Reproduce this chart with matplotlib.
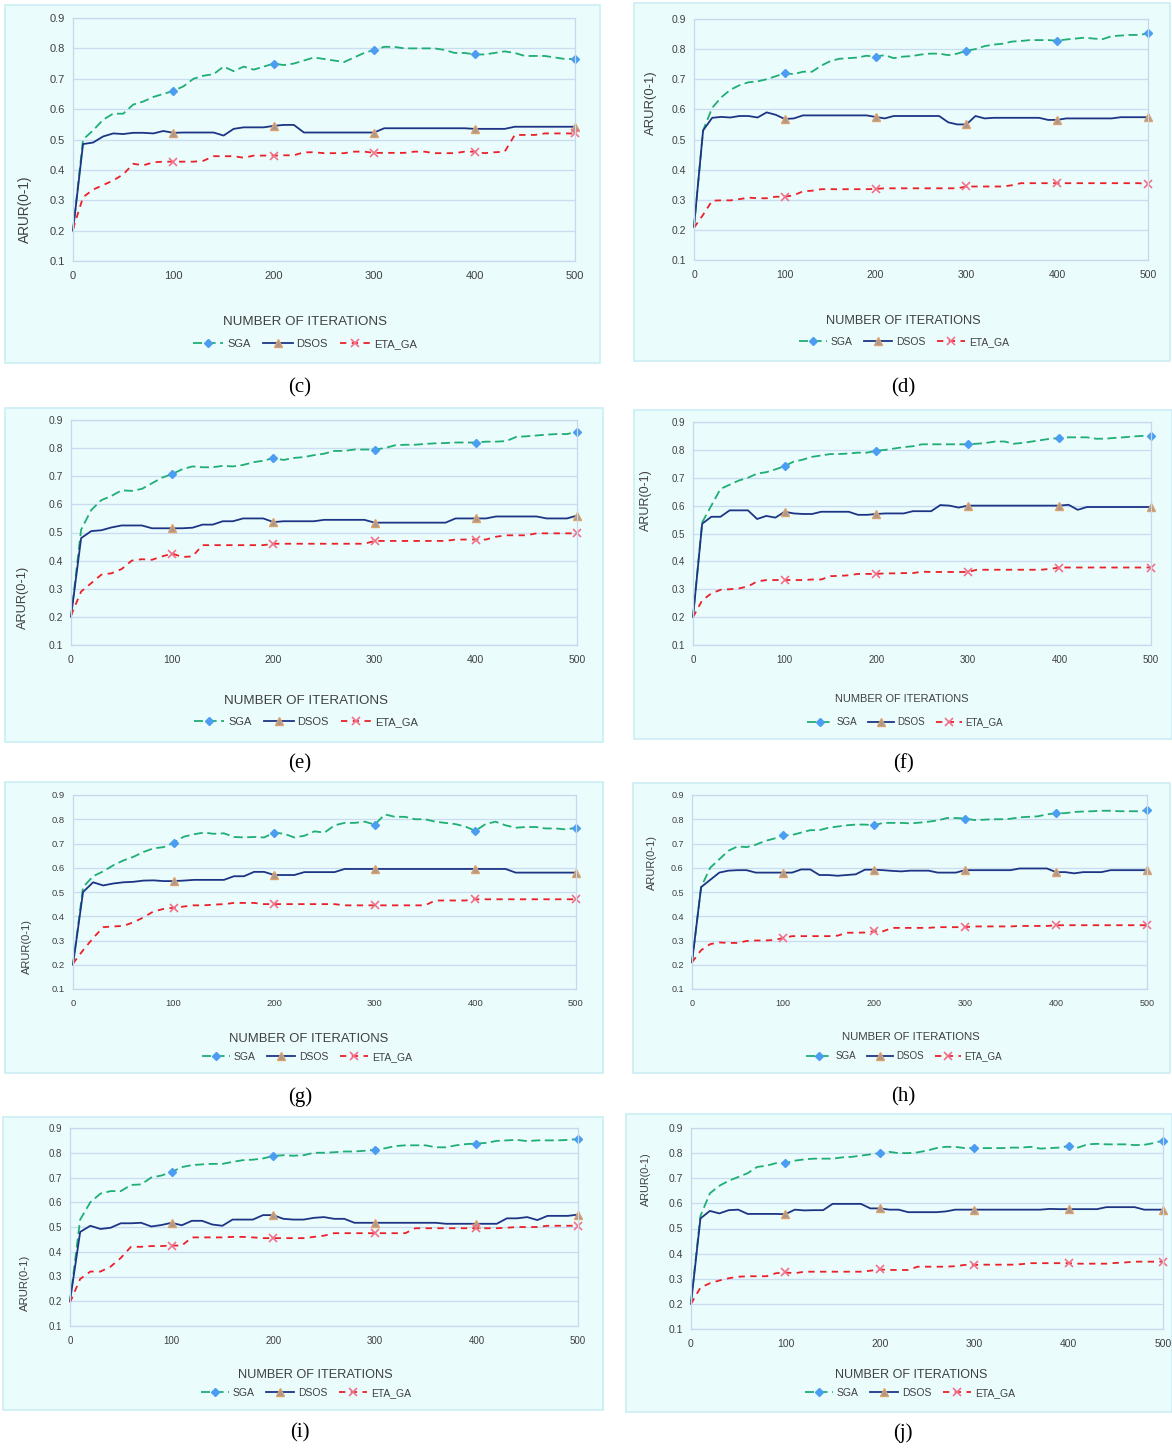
import matplotlib.pyplot as plt
from matplotlib.patches import Rectangle

plt.rcParams['font.family'] = ['Liberation Sans', 'DejaVu Sans']

# iteration axis (one sample every 10 iterations)
iters = list(range(0, 501, 10))
series_names = ['SGA', 'DSOS', 'ETA_GA']

# ---- (c) ----
c_sga = [0.20, 0.50, 0.53, 0.565, 0.585, 0.585, 0.615, 0.625, 0.64, 0.65, 0.66,
         0.675, 0.70, 0.71, 0.715, 0.74, 0.725, 0.74, 0.73, 0.74, 0.75,
         0.745, 0.75, 0.76, 0.77, 0.765, 0.76, 0.755, 0.77, 0.785, 0.795,
         0.805, 0.805, 0.80, 0.80, 0.80, 0.80, 0.795, 0.785, 0.785, 0.78,
         0.78, 0.785, 0.79, 0.785, 0.775, 0.775, 0.775, 0.77, 0.765, 0.765]
c_dsos = [0.20, 0.485, 0.49, 0.51, 0.52, 0.518, 0.522, 0.522, 0.52, 0.528, 0.522,
          0.523, 0.523, 0.523, 0.523, 0.513, 0.535, 0.54, 0.54, 0.54, 0.545,
          0.548, 0.548, 0.523, 0.523, 0.523, 0.523, 0.523, 0.523, 0.523, 0.523,
          0.537, 0.537, 0.537, 0.537, 0.537, 0.537, 0.537, 0.537, 0.537, 0.535,
          0.535, 0.535, 0.535, 0.542, 0.542, 0.542, 0.542, 0.542, 0.542, 0.542]
c_eta = [0.205, 0.31, 0.335, 0.35, 0.365, 0.385, 0.42, 0.415, 0.425, 0.427, 0.427,
         0.427, 0.427, 0.43, 0.445, 0.445, 0.445, 0.44, 0.447, 0.447, 0.447,
         0.448, 0.448, 0.458, 0.458, 0.455, 0.455, 0.455, 0.46, 0.46, 0.456,
         0.456, 0.456, 0.456, 0.46, 0.46, 0.455, 0.455, 0.455, 0.46, 0.46,
         0.455, 0.458, 0.46, 0.515, 0.515, 0.515, 0.52, 0.52, 0.52, 0.52]

# ---- (d) ----
d_sga = [0.21, 0.53, 0.605, 0.64, 0.665, 0.68, 0.69, 0.693, 0.70, 0.71, 0.72,
         0.717, 0.725, 0.725, 0.745, 0.76, 0.768, 0.77, 0.772, 0.778, 0.775,
         0.78, 0.77, 0.775, 0.777, 0.782, 0.785, 0.785, 0.78, 0.785, 0.795,
         0.80, 0.81, 0.815, 0.818, 0.825, 0.827, 0.83, 0.83, 0.83, 0.828,
         0.832, 0.835, 0.838, 0.835, 0.833, 0.843, 0.845, 0.847, 0.847, 0.852]
d_dsos = [0.21, 0.53, 0.572, 0.575, 0.573, 0.578, 0.578, 0.573, 0.59, 0.582, 0.568,
          0.57, 0.58, 0.58, 0.58, 0.58, 0.58, 0.58, 0.58, 0.58, 0.575,
          0.57, 0.578, 0.578, 0.578, 0.578, 0.578, 0.578, 0.557, 0.55, 0.55,
          0.578, 0.57, 0.572, 0.572, 0.572, 0.572, 0.572, 0.572, 0.565, 0.565,
          0.57, 0.57, 0.57, 0.57, 0.57, 0.57, 0.574, 0.574, 0.574, 0.574]
d_eta = [0.207, 0.25, 0.297, 0.298, 0.298, 0.302, 0.307, 0.305, 0.305, 0.31, 0.31,
         0.315, 0.328, 0.33, 0.335, 0.335, 0.335, 0.335, 0.335, 0.335, 0.336,
         0.338, 0.338, 0.338, 0.338, 0.338, 0.338, 0.338, 0.338, 0.338, 0.344,
         0.344, 0.344, 0.344, 0.344, 0.348, 0.355, 0.355, 0.355, 0.355, 0.355,
         0.355, 0.355, 0.355, 0.355, 0.355, 0.355, 0.355, 0.355, 0.355, 0.352]

# ---- (e) ----
e_sga = [0.20, 0.51, 0.58, 0.615, 0.63, 0.65, 0.648, 0.655, 0.675, 0.695, 0.708,
         0.725, 0.735, 0.732, 0.732, 0.737, 0.735, 0.74, 0.75, 0.755, 0.765,
         0.758, 0.765, 0.768, 0.775, 0.78, 0.79, 0.79, 0.795, 0.795, 0.795,
         0.80, 0.81, 0.812, 0.812, 0.815, 0.817, 0.818, 0.82, 0.82, 0.82,
         0.823, 0.823, 0.825, 0.84, 0.842, 0.845, 0.848, 0.85, 0.85, 0.858]
e_dsos = [0.20, 0.48, 0.505, 0.508, 0.518, 0.525, 0.525, 0.525, 0.515, 0.515, 0.515,
          0.515, 0.517, 0.528, 0.528, 0.54, 0.54, 0.55, 0.55, 0.55, 0.537,
          0.54, 0.54, 0.54, 0.54, 0.545, 0.545, 0.545, 0.545, 0.545, 0.535,
          0.535, 0.535, 0.535, 0.535, 0.535, 0.535, 0.535, 0.55, 0.55, 0.55,
          0.55, 0.557, 0.557, 0.557, 0.557, 0.557, 0.55, 0.55, 0.55, 0.56]
e_eta = [0.205, 0.29, 0.32, 0.35, 0.355, 0.37, 0.40, 0.405, 0.403, 0.415, 0.425,
         0.413, 0.415, 0.455, 0.455, 0.455, 0.455, 0.455, 0.455, 0.455, 0.46,
         0.46, 0.46, 0.46, 0.46, 0.46, 0.46, 0.46, 0.46, 0.46, 0.47,
         0.47, 0.47, 0.47, 0.47, 0.47, 0.47, 0.47, 0.475, 0.475, 0.475,
         0.475, 0.485, 0.49, 0.49, 0.49, 0.497, 0.497, 0.497, 0.497, 0.497]

# ---- (f) ----
f_sga = [0.20, 0.54, 0.60, 0.66, 0.675, 0.69, 0.70, 0.715, 0.72, 0.73, 0.742,
         0.758, 0.765, 0.775, 0.78, 0.785, 0.785, 0.787, 0.79, 0.79, 0.797,
         0.80, 0.805, 0.81, 0.813, 0.82, 0.82, 0.82, 0.82, 0.82, 0.82,
         0.822, 0.825, 0.83, 0.83, 0.822, 0.825, 0.83, 0.835, 0.84, 0.842,
         0.845, 0.845, 0.845, 0.84, 0.84, 0.843, 0.845, 0.848, 0.85, 0.851]
f_dsos = [0.20, 0.535, 0.56, 0.56, 0.583, 0.583, 0.583, 0.552, 0.563, 0.557, 0.578,
          0.572, 0.57, 0.57, 0.578, 0.578, 0.578, 0.578, 0.567, 0.567, 0.57,
          0.572, 0.572, 0.572, 0.58, 0.58, 0.58, 0.602, 0.60, 0.593, 0.60,
          0.60, 0.60, 0.60, 0.60, 0.60, 0.60, 0.60, 0.60, 0.60, 0.60,
          0.603, 0.585, 0.595, 0.595, 0.595, 0.595, 0.595, 0.595, 0.595, 0.595]
f_eta = [0.20, 0.26, 0.285, 0.298, 0.30, 0.303, 0.31, 0.328, 0.333, 0.333, 0.333,
         0.333, 0.333, 0.335, 0.335, 0.347, 0.348, 0.35, 0.355, 0.355, 0.355,
         0.357, 0.357, 0.358, 0.358, 0.363, 0.362, 0.362, 0.362, 0.362, 0.362,
         0.37, 0.37, 0.37, 0.37, 0.37, 0.37, 0.37, 0.37, 0.373, 0.378,
         0.378, 0.378, 0.378, 0.378, 0.378, 0.378, 0.378, 0.378, 0.378, 0.378]

# ---- (g) ----
g_sga = [0.20, 0.52, 0.565, 0.585, 0.61, 0.63, 0.645, 0.665, 0.68, 0.685, 0.703,
         0.728, 0.738, 0.745, 0.74, 0.742, 0.727, 0.725, 0.727, 0.725, 0.745,
         0.74, 0.725, 0.732, 0.75, 0.745, 0.775, 0.785, 0.785, 0.79, 0.778,
         0.82, 0.81, 0.81, 0.80, 0.80, 0.79, 0.785, 0.78, 0.77, 0.752,
         0.78, 0.79, 0.775, 0.765, 0.768, 0.768, 0.762, 0.762, 0.758, 0.765]
g_dsos = [0.20, 0.50, 0.54, 0.527, 0.535, 0.54, 0.542, 0.547, 0.548, 0.545, 0.545,
          0.547, 0.55, 0.55, 0.55, 0.55, 0.565, 0.565, 0.583, 0.583, 0.57,
          0.57, 0.57, 0.582, 0.582, 0.582, 0.582, 0.595, 0.595, 0.595, 0.595,
          0.595, 0.595, 0.595, 0.595, 0.595, 0.595, 0.595, 0.595, 0.595, 0.595,
          0.595, 0.595, 0.595, 0.58, 0.58, 0.58, 0.58, 0.58, 0.58, 0.58]
g_eta = [0.205, 0.26, 0.31, 0.355, 0.358, 0.36, 0.375, 0.395, 0.42, 0.43, 0.435,
         0.44, 0.445, 0.445, 0.448, 0.45, 0.455, 0.455, 0.455, 0.45, 0.45,
         0.45, 0.45, 0.45, 0.45, 0.45, 0.45, 0.445, 0.445, 0.445, 0.445,
         0.445, 0.445, 0.445, 0.445, 0.445, 0.465, 0.465, 0.465, 0.465, 0.47,
         0.47, 0.47, 0.47, 0.47, 0.47, 0.47, 0.47, 0.47, 0.47, 0.47]

# ---- (h) ----
h_sga = [0.21, 0.52, 0.60, 0.635, 0.67, 0.688, 0.685, 0.695, 0.71, 0.72, 0.733,
         0.735, 0.745, 0.755, 0.755, 0.765, 0.77, 0.775, 0.778, 0.778, 0.775,
         0.785, 0.785, 0.785, 0.783, 0.786, 0.79, 0.795, 0.805, 0.805, 0.803,
         0.797, 0.798, 0.80, 0.80, 0.802, 0.808, 0.81, 0.812, 0.82, 0.825,
         0.825, 0.83, 0.832, 0.833, 0.835, 0.835, 0.833, 0.833, 0.833, 0.837]
h_dsos = [0.21, 0.52, 0.55, 0.58, 0.588, 0.59, 0.59, 0.58, 0.58, 0.58, 0.58,
          0.58, 0.593, 0.593, 0.57, 0.57, 0.567, 0.57, 0.573, 0.592, 0.592,
          0.59, 0.587, 0.585, 0.588, 0.588, 0.588, 0.58, 0.58, 0.58, 0.59,
          0.59, 0.59, 0.59, 0.59, 0.59, 0.597, 0.597, 0.597, 0.597, 0.582,
          0.582, 0.577, 0.582, 0.582, 0.582, 0.59, 0.59, 0.59, 0.59, 0.59]
h_eta = [0.21, 0.26, 0.285, 0.292, 0.29, 0.29, 0.298, 0.30, 0.30, 0.302, 0.31,
         0.318, 0.318, 0.318, 0.318, 0.318, 0.32, 0.332, 0.332, 0.333, 0.338,
         0.338, 0.352, 0.352, 0.352, 0.352, 0.352, 0.355, 0.355, 0.355, 0.355,
         0.358, 0.358, 0.358, 0.358, 0.358, 0.36, 0.36, 0.36, 0.36, 0.363,
         0.363, 0.363, 0.363, 0.363, 0.363, 0.363, 0.363, 0.363, 0.363, 0.363]

# ---- (i) ----
i_sga = [0.20, 0.53, 0.60, 0.635, 0.645, 0.645, 0.67, 0.672, 0.70, 0.708, 0.722,
         0.742, 0.75, 0.753, 0.755, 0.755, 0.763, 0.77, 0.772, 0.777, 0.787,
         0.79, 0.788, 0.79, 0.80, 0.80, 0.802, 0.805, 0.805, 0.808, 0.812,
         0.818, 0.827, 0.83, 0.83, 0.83, 0.822, 0.822, 0.83, 0.835, 0.837,
         0.84, 0.848, 0.85, 0.852, 0.847, 0.85, 0.85, 0.85, 0.852, 0.855]
i_dsos = [0.20, 0.48, 0.505, 0.492, 0.497, 0.515, 0.515, 0.517, 0.502, 0.508, 0.517,
          0.507, 0.525, 0.525, 0.51, 0.505, 0.53, 0.53, 0.53, 0.548, 0.548,
          0.533, 0.53, 0.53, 0.537, 0.54, 0.533, 0.533, 0.517, 0.517, 0.517,
          0.517, 0.517, 0.517, 0.517, 0.517, 0.517, 0.513, 0.513, 0.513, 0.513,
          0.513, 0.513, 0.535, 0.535, 0.54, 0.528, 0.545, 0.545, 0.545, 0.55]
i_eta = [0.195, 0.29, 0.32, 0.32, 0.34, 0.375, 0.42, 0.42, 0.423, 0.423, 0.425,
         0.425, 0.458, 0.458, 0.458, 0.458, 0.46, 0.46, 0.458, 0.455, 0.455,
         0.455, 0.455, 0.455, 0.46, 0.465, 0.475, 0.475, 0.475, 0.475, 0.475,
         0.475, 0.475, 0.475, 0.495, 0.495, 0.495, 0.495, 0.495, 0.495, 0.495,
         0.495, 0.495, 0.497, 0.50, 0.50, 0.50, 0.505, 0.505, 0.505, 0.505]

# ---- (j) ----
j_sga = [0.21, 0.55, 0.64, 0.67, 0.69, 0.705, 0.72, 0.745, 0.75, 0.76, 0.76,
         0.77, 0.775, 0.778, 0.778, 0.778, 0.783, 0.785, 0.79, 0.795, 0.80,
         0.805, 0.80, 0.80, 0.803, 0.81, 0.82, 0.825, 0.825, 0.82, 0.82,
         0.82, 0.82, 0.82, 0.822, 0.822, 0.825, 0.818, 0.82, 0.822, 0.828,
         0.822, 0.835, 0.837, 0.835, 0.835, 0.835, 0.832, 0.833, 0.84, 0.85]
j_dsos = [0.20, 0.54, 0.57, 0.56, 0.573, 0.575, 0.558, 0.558, 0.558, 0.558, 0.557,
          0.575, 0.572, 0.573, 0.573, 0.598, 0.598, 0.598, 0.598, 0.58, 0.58,
          0.575, 0.575, 0.565, 0.565, 0.565, 0.565, 0.568, 0.575, 0.575, 0.575,
          0.575, 0.575, 0.575, 0.575, 0.575, 0.575, 0.575, 0.578, 0.577, 0.577,
          0.577, 0.577, 0.577, 0.585, 0.585, 0.585, 0.585, 0.575, 0.575, 0.575]
j_eta = [0.20, 0.265, 0.282, 0.293, 0.302, 0.308, 0.31, 0.31, 0.31, 0.322, 0.325,
         0.322, 0.328, 0.328, 0.328, 0.328, 0.328, 0.328, 0.328, 0.332, 0.337,
         0.335, 0.335, 0.335, 0.348, 0.348, 0.348, 0.348, 0.35, 0.355, 0.355,
         0.356, 0.356, 0.356, 0.356, 0.358, 0.362, 0.362, 0.362, 0.362, 0.362,
         0.36, 0.36, 0.36, 0.36, 0.363, 0.365, 0.368, 0.368, 0.368, 0.368]

W, H = 1172, 1450
fig = plt.figure(figsize=(W / 100, H / 100), dpi=100)
fig.patch.set_facecolor('white')

# pixel layout of each panel: outer box, plot area, label / legend / caption spots, font sizes
panels = [
    ('c', (c_sga, c_dsos, c_eta), (5, 5, 600, 363), (73, 18, 575, 261), (305, 322), (305, 344), (25, 209), (300, 388), (8, 9.6, 8, 9.8)),
    ('d', (d_sga, d_dsos, d_eta), (634, 3, 1170, 361), (694, 19, 1148, 260), (903, 321), (904, 342), (651, 103), (903, 388), (7.5, 9.2, 7.5, 9.4)),
    ('e', (e_sga, e_dsos, e_eta), (5, 408, 603, 742), (71, 420, 577, 645), (306, 701), (306, 722), (23, 597), (300, 764), (7.5, 9.6, 8, 9.2)),
    ('f', (f_sga, f_dsos, f_eta), (634, 410, 1172, 739), (693, 422, 1151, 645), (902, 699), (905, 722), (646, 500), (903, 764), (7, 7.9, 7, 9.0)),
    ('g', (g_sga, g_dsos, g_eta), (5, 782, 603, 1073), (73, 795, 576, 989), (309, 1039), (307, 1057), (27, 947), (300, 1097), (6.8, 9.4, 7.5, 8.0)),
    ('h', (h_sga, h_dsos, h_eta), (633, 783, 1170, 1073), (692, 795, 1147, 989), (911, 1037), (904, 1056), (652, 862), (903, 1097), (6.5, 8.2, 7, 8.0)),
    ('i', (i_sga, i_dsos, i_eta), (3, 1117, 603, 1410), (70, 1128, 578, 1326), (315, 1375), (306, 1393), (25, 1283), (300, 1433), (7, 9.2, 7.5, 8.2)),
    ('j', (j_sga, j_dsos, j_eta), (626, 1114, 1172, 1412), (691, 1128, 1163, 1329), (911, 1375), (910, 1393), (646, 1179), (903, 1433), (7.5, 9.0, 7.5, 7.8)),
]

styles = [
    dict(color='#1fae74', ls=(0, (5, 2.5)), marker='D', ms=4.5, mfc='#4b9df2', mec='#4b9df2'),
    dict(color='#1d3585', ls='-', marker='^', ms=6, mfc='#a9998f', mec='#dca16c'),
    dict(color='#ec2028', ls=(0, (3.5, 3)), marker='x', ms=6, mfc='none', mec='#f27089', mew=1.2),
]
txt = '#404040'


def fx(x):
    return x / W


def fy(y):
    return 1 - y / H


for letter, data, box, plot, xl, leg, yl, cap, fs in panels:
    tick_fs, xl_fs, leg_fs, yl_fs = fs
    bx0, by0, bx1, by1 = box
    fig.patches.append(Rectangle((fx(bx0), fy(by1)), (bx1 - bx0) / W, (by1 - by0) / H,
                                 transform=fig.transFigure, facecolor='#eafcfc',
                                 edgecolor='#cbeef4', lw=1.2, zorder=-10))
    px0, pt, px1, pb = plot
    ax = fig.add_axes([fx(px0), fy(pb), (px1 - px0) / W, (pb - pt) / H])
    ax.set_facecolor('none')

    handles = []
    for vals, name, st in zip(data, series_names, styles):
        ln, = ax.plot(iters, vals, lw=1.3, markevery=[10, 20, 30, 40, 50],
                      label=name, clip_on=False, **st)
        handles.append(ln)

    ax.set_xlim(0, 500)
    ax.set_ylim(0.1, 0.9)
    ax.set_xticks([0, 100, 200, 300, 400, 500])
    ax.set_yticks([0.1, 0.2, 0.3, 0.4, 0.5, 0.6, 0.7, 0.8, 0.9])
    ax.set_yticklabels(['0.1', '0.2', '0.3', '0.4', '0.5', '0.6', '0.7', '0.8', '0.9'])
    ax.tick_params(length=0, labelsize=tick_fs, labelcolor=txt)
    ax.tick_params(axis='x', pad=7)
    ax.tick_params(axis='y', pad=6)
    ax.yaxis.grid(True, color='#cadcf0', lw=0.9)
    ax.set_axisbelow(True)
    for sp in ax.spines.values():
        sp.set_color('#c6d8ec')
        sp.set_linewidth(0.9)

    fig.text(fx(xl[0]), fy(xl[1]), 'NUMBER OF ITERATIONS', ha='center', va='center',
             fontsize=xl_fs, color=txt)
    fig.text(fx(yl[0]), fy(yl[1]), 'ARUR(0-1)', ha='center', va='center',
             rotation=90, fontsize=yl_fs, color=txt)
    ax.legend(handles, series_names, loc='center', ncol=3, frameon=False,
              bbox_to_anchor=(fx(leg[0]), fy(leg[1])), bbox_transform=fig.transFigure,
              fontsize=leg_fs, labelcolor=txt, handlelength=2.7,
              handletextpad=0.35, columnspacing=1.1, borderpad=0)
    fig.text(fx(cap[0]), fy(cap[1]), '(' + letter + ')', ha='center', va='center',
             fontsize=15, family='Liberation Serif', color='black')

fig.savefig('out.png', dpi=100, facecolor='white')
